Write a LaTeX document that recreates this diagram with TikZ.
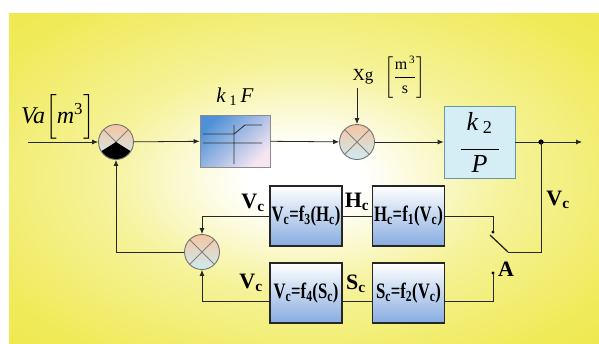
\documentclass[tikz,border=0pt]{standalone}
\usepackage{amsmath}
\usepackage{fontspec}
\setmainfont{Liberation Serif}
\usetikzlibrary{positioning}
\usetikzlibrary{arrows.meta}
\definecolor{ylw}{RGB}{237,231,62}
\definecolor{sumtop}{RGB}{246,196,160}
\definecolor{sumbot}{RGB}{205,236,242}
\definecolor{boxbot}{RGB}{135,172,224}
\definecolor{kblue}{RGB}{78,145,215}
\definecolor{kpink}{RGB}{247,230,242}
\definecolor{kcyan}{RGB}{213,237,244}
\definecolor{kline}{RGB}{110,150,160}
\pgfdeclareradialshading{glow}{\pgfpoint{0bp}{0bp}}{color(0bp)=(white); color(5bp)=(white); color(17bp)=(ylw!52); color(31bp)=(ylw!86); color(44bp)=(ylw); color(80bp)=(ylw)}

\begin{document}
\begin{tikzpicture}[x=1pt,y=-1pt,
    sum/.style={draw=black!55, line width=0.9pt, circle, minimum size=35pt, inner sep=0pt,
      top color=sumtop, bottom color=sumbot,
      path picture={\draw[black!50, line width=0.8pt] (path picture bounding box.north west) -- (path picture bounding box.south east)
        (path picture bounding box.north east) -- (path picture bounding box.south west);}},
    fbox/.style={draw=black!85, line width=1.6pt, top color=white, bottom color=boxbot,
      minimum width=72pt, minimum height=60pt, inner sep=0pt, font=\fontsize{22}{24}\selectfont\bfseries},
    lbl/.style={font=\fontsize{22}{24}\selectfont\bfseries},
    sig/.style={black!85, line width=0.8pt},
    arr/.style={sig, -{Latex[length=6pt,width=5pt]}}]

    % background panel
    \fill[white] (0,0) rectangle (599,343);
    \shade[shading=glow] (9,13) rectangle (599,343);
    \useasboundingbox (0,0) rectangle (599,343);

    % forward path
    \coordinate (in) at (28,142);
    \node[sum] (s1) at (116,142) {};
    \fill[black] (s1.center) -- ++(212:17pt) arc[start angle=212, end angle=328, radius=17pt] -- cycle;
    \node (va) at (58,117) {\fontsize{24}{24}\selectfont\textit{Va}$\Bigl[$\textit{m}\textsuperscript{3}$\Bigr]$};

    \node[draw=black!45, line width=0.8pt, minimum width=70pt, minimum height=52pt,
      left color=kblue, right color=kpink, shading angle=45] (k1) at (235,141) {};
    \draw[black!80, line width=0.9pt] (203,134) -- (234,134) -- (245,125) -- (262,125)
      (203,143) -- (262,143) (234,125) -- (234,164);
    \node (k1lbl) at (235,97) {\fontsize{21}{22}\selectfont\textit{k}\,\textsubscript{1}\,\textit{F}};

    \node[sum] (s2) at (357,142) {};
    \node (xg) at (363,77) {\fontsize{17}{18}\selectfont Xg};
    \node (unit) at (405,77) {\fontsize{16}{17}\selectfont$\left[\dfrac{\mbox{m\textsuperscript{\,3}}}{\mbox{s}}\right]$};

    \node[draw=kline, line width=0.8pt, fill=kcyan, minimum width=71pt, minimum height=72pt, align=center,
      font=\fontsize{26}{26}\selectfont] (k2) at (479.5,142)
      {\textit{k}\,\textsubscript{2}\\[-6pt]\rule{38pt}{0.9pt}\\[-4pt]\textit{P}};

    \coordinate (tap) at (541,142);
    \coordinate (out) at (582,142);

    % feedback blocks
    \node[fbox] (f3) at (306,216) {\scalebox{0.76}[1]{V\textsubscript{c}=f\textsubscript{3}(H\textsubscript{c})}};
    \node[fbox] (f1) at (408.5,216) {\scalebox{0.76}[1]{H\textsubscript{c}=f\textsubscript{1}(V\textsubscript{c})}};
    \node[fbox] (f4) at (306,293) {\scalebox{0.76}[1]{V\textsubscript{c}=f\textsubscript{4}(S\textsubscript{c})}};
    \node[fbox] (f2) at (408.5,293) {\scalebox{0.76}[1]{S\textsubscript{c}=f\textsubscript{2}(V\textsubscript{c})}};
    \node[sum] (s3) at (202,252) {};

    \node[lbl] (vc1) at (253,203) {V\textsubscript{c}};
    \node[lbl] (hc) at (357,202) {H\textsubscript{c}};
    \node[lbl] (vc2) at (251,283) {V\textsubscript{c}};
    \node[lbl] (sc) at (356,284) {S\textsubscript{c}};
    \node[lbl] (vc3) at (558,200) {V\textsubscript{c}};
    \node[lbl] (swa) at (506,269) {A};

    % switch
    \coordinate (ca) at (493,232);
    \coordinate (cb) at (493,273);
    \coordinate (piv) at (508,252);
    \coordinate (blade) at (490,235);

    % connections
    \draw[arr] (in) -- (s1);
    \draw[arr] (s1) -- (k1);
    \draw[arr] (k1) -- (s2);
    \draw[arr] (xg.south -| s2.north) -- (s2.north);
    \draw[arr] (s2) -- (k2);
    \draw[arr] (k2) -- (out);
    \fill (tap) circle[radius=2.6pt];
    \draw[sig] (tap) |- (piv);
    \draw[sig, line width=1.3pt] (piv) -- (blade);
    \fill (ca) circle[radius=1.6pt];
    \fill (cb) circle[radius=1.6pt];
    \draw[sig] (f1.east) -| (ca);
    \draw[sig] ([yshift=-8pt]f2.east) -| (cb);
    \draw[sig] (f1) -- (f3);
    \draw[sig] ([yshift=-8pt]f2.west) -- ([yshift=-8pt]f4.east);
    \draw[arr] (f3.west) -| (s3.north);
    \draw[arr] ([yshift=-8pt]f4.west) -| (s3.south);
    \draw[arr] (s3.west) -| (s1.south);
\end{tikzpicture}
\end{document}
